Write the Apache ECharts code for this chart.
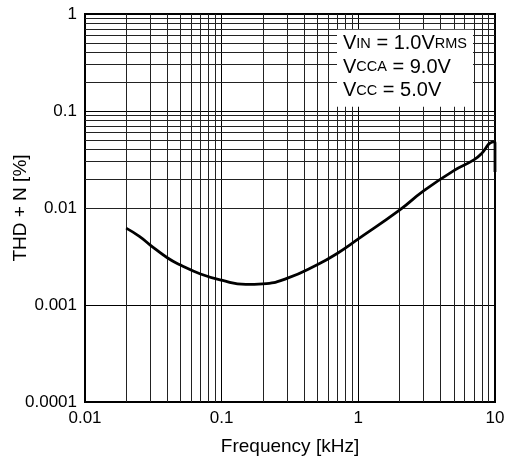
<!DOCTYPE html>
<html>
<head>
<meta charset="utf-8">
<script src="https://cdn.jsdelivr.net/npm/echarts@6.0.0/dist/echarts.min.js"></script>
<style>
  html, body { margin:0; padding:0; background:#fff; }
  #chart { width:508px; height:462px; }
</style>
</head>
<body>
<div id="chart"></div>
<script>
// --- data
const freqKHz = [0.02, 0.025, 0.03, 0.04, 0.05, 0.07, 0.1, 0.15, 0.2, 0.3, 0.5, 0.7,
  1, 2, 3, 5, 7, 8, 9, 9.3, 9.7, 10, 10];
const thdN = [0.0062, 0.0051, 0.00415, 0.00307, 0.00258, 0.00209, 0.0018, 0.00163, 0.00165, 0.00188, 0.0026, 0.0034,
  0.0048, 0.0095, 0.015, 0.0243, 0.0313, 0.0366, 0.0457, 0.047, 0.048, 0.047, 0.0235];

// --- tick labels and log-grid helpers
const xTickLabels = ["0.01", "0.1", "1", "10"];      // 10^-2 .. 10^1
const yTickLabels = ["0.0001", "0.001", "0.01", "0.1", "1"]; // 10^-4 .. 10^0
const xDecades = [0.01, 0.1, 1];
const yDecades = [0.0001, 0.001, 0.01, 0.1];
const minorSteps = [2, 3, 4, 5, 6, 7, 8, 9];

const FONT = "'Liberation Sans', Arial, Helvetica, sans-serif";

const minorX = [];
xDecades.forEach((d) => minorSteps.forEach((m) => minorX.push({ xAxis: +(d * m).toPrecision(3) })));
const minorY = [];
yDecades.forEach((d) => minorSteps.forEach((m) => minorY.push({ yAxis: +(d * m).toPrecision(3) })));

const chart = echarts.init(document.getElementById("chart"), null, { renderer: "canvas" });

const option = {
  animation: false,
  backgroundColor: "#fff",
  title: {
    left: 337,
    top: 28,
    padding: [4, 6, 6, 6],
    backgroundColor: "#fff",
    text: [
      "{v|V}{s|IN}{v| = 1.0V}{s|RMS}",
      "{v|V}{s|CCA}{v| = 9.0V}",
      "{v|V}{s|CC}{v| = 5.0V}",
    ].join("\n"),
    textStyle: {
      fontWeight: "normal",
      rich: {
        v: { fontFamily: FONT, fontSize: 20, fontWeight: "normal", color: "#000", lineHeight: 23.5 },
        s: { fontFamily: FONT, fontSize: 14.5, fontWeight: "normal", color: "#000", lineHeight: 23.5 },
      },
    },
  },
  grid: {
    left: 85, right: 13, top: 14, bottom: 60,
    outerBoundsMode: "none",
    containLabel: false,
    show: true, borderColor: "#000", borderWidth: 2,
  },
  xAxis: {
    type: "log",
    logBase: 10,
    min: 0.01,
    max: 10,
    name: "Frequency [kHz]",
    nameLocation: "middle",
    nameGap: 35,
    nameMoveOverlap: false,
    nameTextStyle: { fontFamily: FONT, fontSize: 19, color: "#000" },
    axisLine: { show: true, lineStyle: { color: "#000", width: 2 } },
    axisTick: { show: false },
    axisLabel: {
      fontFamily: FONT, fontSize: 17, color: "#000", margin: 8,
      formatter: (v) => xTickLabels[Math.round(Math.log10(v)) + 2],
    },
    splitLine: { show: true, lineStyle: { color: "#000", width: 1 } },
  },
  yAxis: {
    type: "log",
    logBase: 10,
    min: 0.0001,
    max: 1,
    name: "THD + N [%]",
    nameLocation: "middle",
    nameGap: 55,
    nameMoveOverlap: false,
    nameTextStyle: { fontFamily: FONT, fontSize: 19, color: "#000" },
    axisLine: { show: true, lineStyle: { color: "#000", width: 2 } },
    axisTick: { show: false },
    axisLabel: {
      fontFamily: FONT, fontSize: 17, color: "#000", margin: 8,
      formatter: (v) => yTickLabels[Math.round(Math.log10(v)) + 4],
    },
    splitLine: { show: true, lineStyle: { color: "#000", width: 1 } },
  },
  series: [
    {
      // minor log grid (2..9 of each decade)
      type: "line",
      data: [],
      z: 1,
      silent: true,
      markLine: {
        silent: true,
        symbol: "none",
        label: { show: false },
        lineStyle: { color: "#222", width: 1, type: "solid" },
        data: minorX.concat(minorY),
      },
    },
    {
      name: "THD+N",
      type: "line",
      z: 5,
      data: freqKHz.map((f, i) => [f, thdN[i]]),
      showSymbol: false,
      smooth: 0.5,
      lineStyle: { color: "#000", width: 2.8 },
    },
  ],
};

chart.setOption(option);
</script>
</body>
</html>
